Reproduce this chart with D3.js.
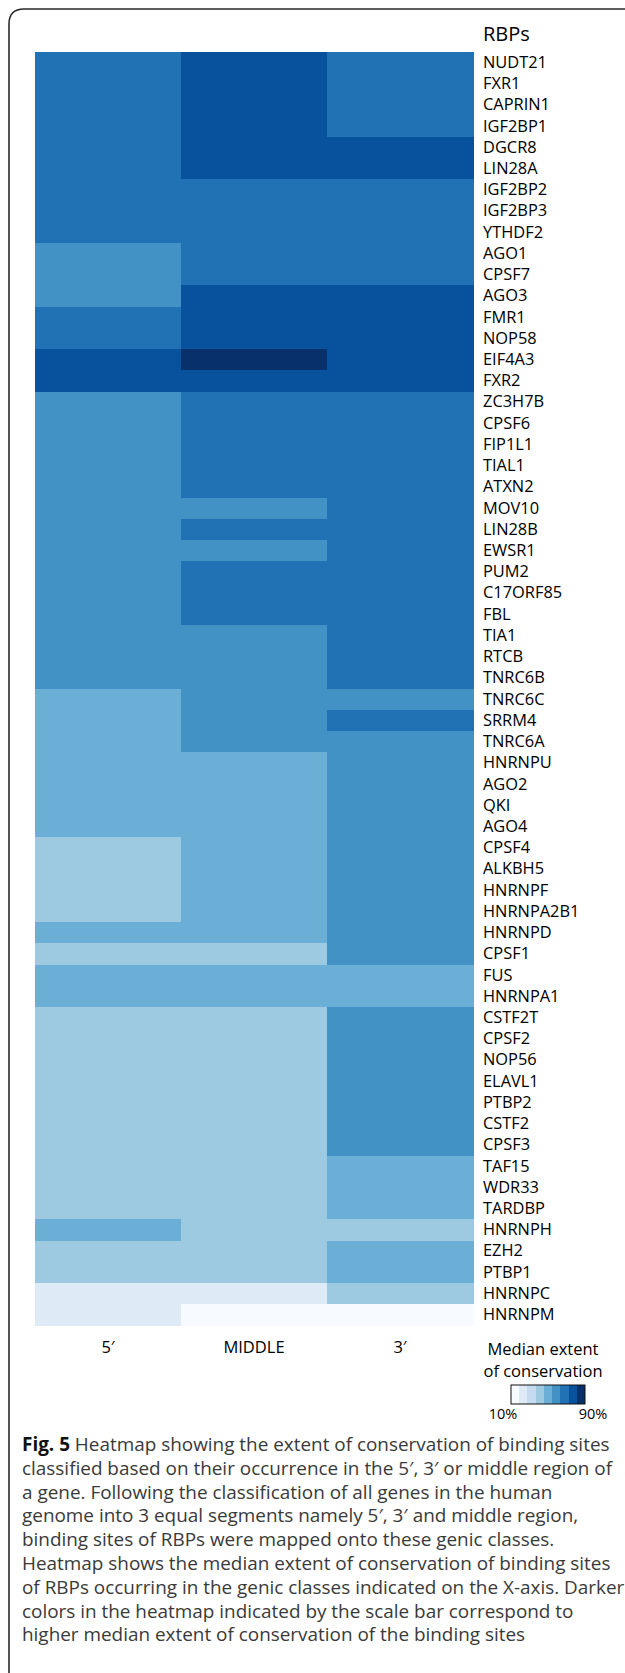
<!DOCTYPE html>
<html>
<head>
<meta charset="utf-8">
<script src="https://cdn.jsdelivr.net/npm/d3@7"></script>
<style>
  html, body { margin: 0; padding: 0; background: #fff; }
  svg { display: block; }
  text { font-family: "Open Sans", "Noto Sans", sans-serif; }
</style>
</head>
<body>
<svg id="chart" width="625" height="1673"></svg>
<script>
// RNA-binding proteins, top to bottom
const rbps = ["NUDT21","FXR1","CAPRIN1","IGF2BP1","DGCR8","LIN28A","IGF2BP2","IGF2BP3","YTHDF2","AGO1",
  "CPSF7","AGO3","FMR1","NOP58","EIF4A3","FXR2","ZC3H7B","CPSF6","FIP1L1","TIAL1",
  "ATXN2","MOV10","LIN28B","EWSR1","PUM2","C17ORF85","FBL","TIA1","RTCB","TNRC6B",
  "TNRC6C","SRRM4","TNRC6A","HNRNPU","AGO2","QKI","AGO4","CPSF4","ALKBH5","HNRNPF",
  "HNRNPA2B1","HNRNPD","CPSF1","FUS","HNRNPA1","CSTF2T","CPSF2","NOP56","ELAVL1","PTBP2",
  "CSTF2","CPSF3","TAF15","WDR33","TARDBP","HNRNPH","EZH2","PTBP1","HNRNPC","HNRNPM"];

// genic classes (x axis)
const regions = ["5\u2032", "MIDDLE", "3\u2032"];

// median extent of conservation (%) per genic class, in rbps order
const fivePrime = [68,67,69,66,68,70,65,67,64,61,
  60,62,66,65,74,73,60,59,58,60,
  57,58,59,56,58,61,59,57,58,60,
  52,50,51,49,50,48,49,42,41,43,
  40,47,39,48,47,42,40,41,43,39,
  41,42,40,38,41,47,40,39,24,22];
const middle = [76,77,75,78,76,77,68,67,69,66,
  68,75,76,74,84,75,67,69,66,68,
  65,60,67,58,66,68,67,60,59,61,
  58,57,59,52,50,49,51,48,50,49,
  48,47,42,50,48,40,41,39,42,40,
  41,38,40,42,41,39,40,41,23,15];
const threePrime = [67,66,68,65,74,75,66,68,67,69,
  66,76,77,75,78,74,67,68,69,66,
  68,67,65,69,68,66,67,68,70,66,
  58,65,60,59,57,60,58,59,61,57,
  58,60,56,48,50,59,60,58,57,61,
  59,58,49,51,50,42,48,50,40,14];

// colour scale range and its end labels
const scaleDomain = [10, 90];
const scaleTicks = ["10%", "90%"];

const captionLines = [
  ["Fig. 5", " Heatmap showing the extent of conservation of binding sites"],
  ["", "classified based on their occurrence in the 5\u2032, 3\u2032 or middle region of"],
  ["", "a gene. Following the classification of all genes in the human"],
  ["", "genome into 3 equal segments namely 5\u2032, 3\u2032 and middle region,"],
  ["", "binding sites of RBPs were mapped onto these genic classes."],
  ["", "Heatmap shows the median extent of conservation of binding sites"],
  ["", "of RBPs occurring in the genic classes indicated on the X-axis. Darker"],
  ["", "colors in the heatmap indicated by the scale bar correspond to"],
  ["", "higher median extent of conservation of the binding sites"]
];

const seriesByRegion = [fivePrime, middle, threePrime];
const cells = [];
regions.forEach((r, i) => {
  rbps.forEach((p, j) => cells.push({ region: r, rbp: p, value: seriesByRegion[i][j] }));
});

const svg = d3.select("#chart");

// figure frame (open at right and bottom)
svg.append("path")
  .attr("d", "M9,1673 V24 Q9,9 24,9 H640")
  .attr("fill", "none")
  .attr("stroke", "#2a2a2a")
  .attr("stroke-width", 1.6);

const x = d3.scaleBand().domain(regions).range([35, 473]);
const y = d3.scaleBand().domain(rbps).range([52, 1325.5]);
const color = d3.scaleQuantize().domain(scaleDomain).range(d3.schemeBlues[9]);

// heatmap cells
svg.append("g")
  .selectAll("rect")
  .data(cells)
  .join("rect")
  .attr("x", d => x(d.region))
  .attr("y", d => y(d.rbp))
  .attr("width", x.bandwidth() + 0.5)
  .attr("height", y.bandwidth() + 0.5)
  .attr("fill", d => color(d.value))
  .attr("shape-rendering", "crispEdges");

// row labels
const yAxis = svg.append("g")
  .attr("transform", "translate(473,0)")
  .call(d3.axisRight(y).tickSize(0).tickPadding(10));
yAxis.select(".domain").remove();
yAxis.selectAll("text")
  .attr("fill", "#000")
  .style("font-size", "16.4px")
  .style("font-family", "'Open Sans', sans-serif");

svg.append("text")
  .attr("x", 483)
  .attr("y", 41)
  .attr("fill", "#000")
  .style("font-size", "20px")
  .text("RBPs");

// column labels
const xAxis = svg.append("g")
  .attr("transform", "translate(0,1325.5)")
  .call(d3.axisBottom(x).tickSize(0).tickPadding(16));
xAxis.select(".domain").remove();
xAxis.selectAll("text")
  .attr("fill", "#000")
  .style("font-size", "16.5px")
  .style("font-family", "'Open Sans', sans-serif");

// colour legend
const legend = svg.append("g");
legend.append("text")
  .attr("x", 543).attr("y", 1355)
  .attr("text-anchor", "middle")
  .style("font-size", "16.5px")
  .text("Median extent");
legend.append("text")
  .attr("x", 543).attr("y", 1377)
  .attr("text-anchor", "middle")
  .style("font-size", "16.5px")
  .text("of conservation");

const lx = d3.scaleLinear().domain(scaleDomain).range([511, 585]);
const swatch = d3.scaleBand().domain(d3.range(color.range().length)).range(lx.range());
legend.selectAll("rect.sw")
  .data(color.range())
  .join("rect")
  .attr("class", "sw")
  .attr("x", (d, i) => swatch(i))
  .attr("y", 1385)
  .attr("width", swatch.bandwidth() + 0.3)
  .attr("height", 19)
  .attr("fill", d => d)
  .attr("shape-rendering", "crispEdges");
legend.append("rect")
  .attr("x", lx(scaleDomain[0]))
  .attr("y", 1385)
  .attr("width", lx(scaleDomain[1]) - lx(scaleDomain[0]))
  .attr("height", 19)
  .attr("fill", "none")
  .attr("stroke", "#111")
  .attr("stroke-width", 1);
legend.selectAll("text.tk")
  .data(scaleDomain)
  .join("text")
  .attr("class", "tk")
  .attr("x", (d, i) => lx(d) + (i === 0 ? -8 : 8))
  .attr("y", 1419)
  .attr("text-anchor", "middle")
  .style("font-size", "14.5px")
  .text((d, i) => scaleTicks[i]);

// caption
const cap = svg.append("g");
const capRows = cap.selectAll("text")
  .data(captionLines)
  .join("text")
  .attr("x", 22)
  .attr("y", (d, i) => 1451 + i * 23.8)
  .style("font-size", "16px");
capRows.append("tspan")
  .style("font-weight", "700")
  .attr("fill", "#111")
  .text(d => d[0]);
capRows.append("tspan")
  .attr("fill", "#3a3a3a")
  .text(d => d[1]);

// size caption so the first line spans the figure width
const firstLen = capRows.nodes()[0].getComputedTextLength();
const capSize = 16 * 588 / firstLen;
capRows.style("font-size", capSize + "px");
</script>
</body>
</html>
